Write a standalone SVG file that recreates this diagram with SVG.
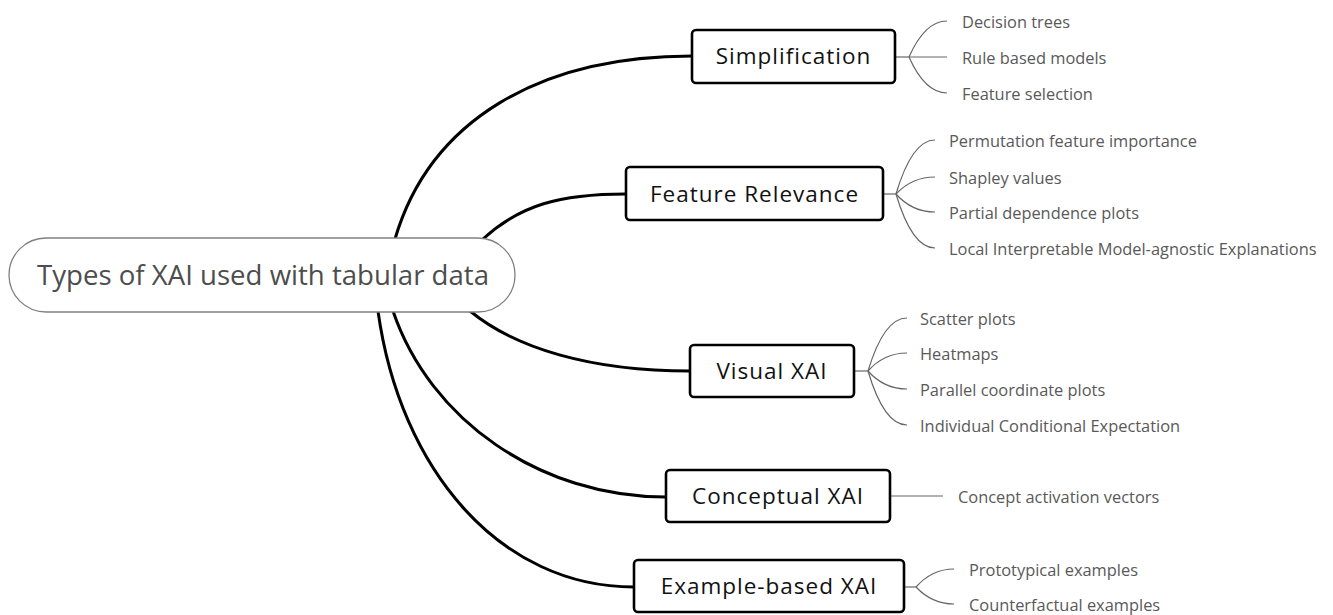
<svg xmlns="http://www.w3.org/2000/svg" width="1333" height="615" viewBox="0 0 1333 615">
  <style>
    .root-box { fill: #ffffff; stroke: #808080; stroke-width: 1.3; }
    .root-text { font-family: "Open Sans", "Noto Sans", sans-serif; font-size: 27.6px; fill: #4d4d4d; text-anchor: middle; }
    .topic-box { fill: #ffffff; stroke: #000000; stroke-width: 2.6; }
    .topic-text { font-family: "Open Sans", "Noto Sans", sans-serif; font-size: 22.5px; letter-spacing: 1px; fill: #111111; text-anchor: middle; }
    .leaf-text { font-family: "Open Sans", "Noto Sans", sans-serif; font-size: 16.4px; fill: #595959; }
    .main-link { fill: none; stroke: #000000; stroke-width: 3; stroke-linecap: round; }
    .leaf-link { fill: none; stroke: #666666; stroke-width: 1.2; }
  </style>

  <rect width="1333" height="615" fill="#ffffff"/>

  <!-- connectors: root to topics, topics to leaves -->
  <g id="connectors">
    <path class="main-link" d="M395,239 C430,120 540,56 692,56"/>
    <path class="main-link" d="M483,239 C520,205 560,194 626,194"/>
    <path class="main-link" d="M470,311 C515,348 590,371 690,371"/>
    <path class="main-link" d="M393,311 C430,420 540,497 666,497"/>
    <path class="main-link" d="M378,311 C400,470 500,587 634,587"/>

    <!-- Simplification -->
    <path class="leaf-link" d="M895,57 H909"/>
    <path class="leaf-link" d="M909,57 Q925,21 947,21"/>
    <path class="leaf-link" d="M909,57 H947"/>
    <path class="leaf-link" d="M909,57 Q925,93 947,93"/>

    <!-- Feature Relevance -->
    <path class="leaf-link" d="M883,194 H896"/>
    <path class="leaf-link" d="M896,194 Q912,140 935,140"/>
    <path class="leaf-link" d="M896,194 Q912,177 935,177"/>
    <path class="leaf-link" d="M896,194 Q912,212 935,212"/>
    <path class="leaf-link" d="M896,194 Q912,248 935,248"/>

    <!-- Visual XAI -->
    <path class="leaf-link" d="M854,371 H868"/>
    <path class="leaf-link" d="M868,371 Q884,318 907,318"/>
    <path class="leaf-link" d="M868,371 Q884,353 907,353"/>
    <path class="leaf-link" d="M868,371 Q884,389 907,389"/>
    <path class="leaf-link" d="M868,371 Q884,425 907,425"/>

    <!-- Conceptual XAI -->
    <path class="leaf-link" d="M890,496 H943"/>

    <!-- Example-based XAI -->
    <path class="leaf-link" d="M904,587 H916"/>
    <path class="leaf-link" d="M916,587 Q932,569 954,569"/>
    <path class="leaf-link" d="M916,587 Q932,604 954,604"/>
  </g>

  <g id="root">
    <rect class="root-box" x="9" y="238" width="506" height="74" rx="37" ry="37"/>
    <text class="root-text" x="263" y="285">Types of XAI used with tabular data</text>
  </g>

  <g id="simplification">
    <rect class="topic-box" x="692" y="30" width="203" height="53" rx="4"/>
    <text class="topic-text" x="793.5" y="64">Simplification</text>
  </g>
  <g id="simplification-leaves">
    <text class="leaf-text" x="962" y="27.5">Decision trees</text>
    <text class="leaf-text" x="962" y="63.5">Rule based models</text>
    <text class="leaf-text" x="962" y="99.5">Feature selection</text>
  </g>

  <g id="feature-relevance">
    <rect class="topic-box" x="626" y="167" width="257" height="53" rx="4"/>
    <text class="topic-text" x="754.5" y="202">Feature Relevance</text>
  </g>
  <g id="feature-relevance-leaves">
    <text class="leaf-text" x="949" y="147">Permutation feature importance</text>
    <text class="leaf-text" x="949" y="183.5">Shapley values</text>
    <text class="leaf-text" x="949" y="218.5">Partial dependence plots</text>
    <text class="leaf-text" x="949" y="254.5">Local Interpretable Model-agnostic Explanations</text>
  </g>

  <g id="visual-xai">
    <rect class="topic-box" x="690" y="345" width="164" height="52" rx="4"/>
    <text class="topic-text" x="772" y="379">Visual XAI</text>
  </g>
  <g id="visual-xai-leaves">
    <text class="leaf-text" x="920" y="324.5">Scatter plots</text>
    <text class="leaf-text" x="920" y="359.5">Heatmaps</text>
    <text class="leaf-text" x="920" y="395.5">Parallel coordinate plots</text>
    <text class="leaf-text" x="920" y="431.5">Individual Conditional Expectation</text>
  </g>

  <g id="conceptual-xai">
    <rect class="topic-box" x="666" y="470" width="224" height="52" rx="4"/>
    <text class="topic-text" x="778" y="504">Conceptual XAI</text>
  </g>
  <g id="conceptual-xai-leaves">
    <text class="leaf-text" x="958" y="502.5">Concept activation vectors</text>
  </g>

  <g id="example-based-xai">
    <rect class="topic-box" x="634" y="560" width="270" height="52" rx="4"/>
    <text class="topic-text" x="769" y="594">Example-based XAI</text>
  </g>
  <g id="example-based-xai-leaves">
    <text class="leaf-text" x="969" y="575.5">Prototypical examples</text>
    <text class="leaf-text" x="969" y="610.5">Counterfactual examples</text>
  </g>
</svg>
